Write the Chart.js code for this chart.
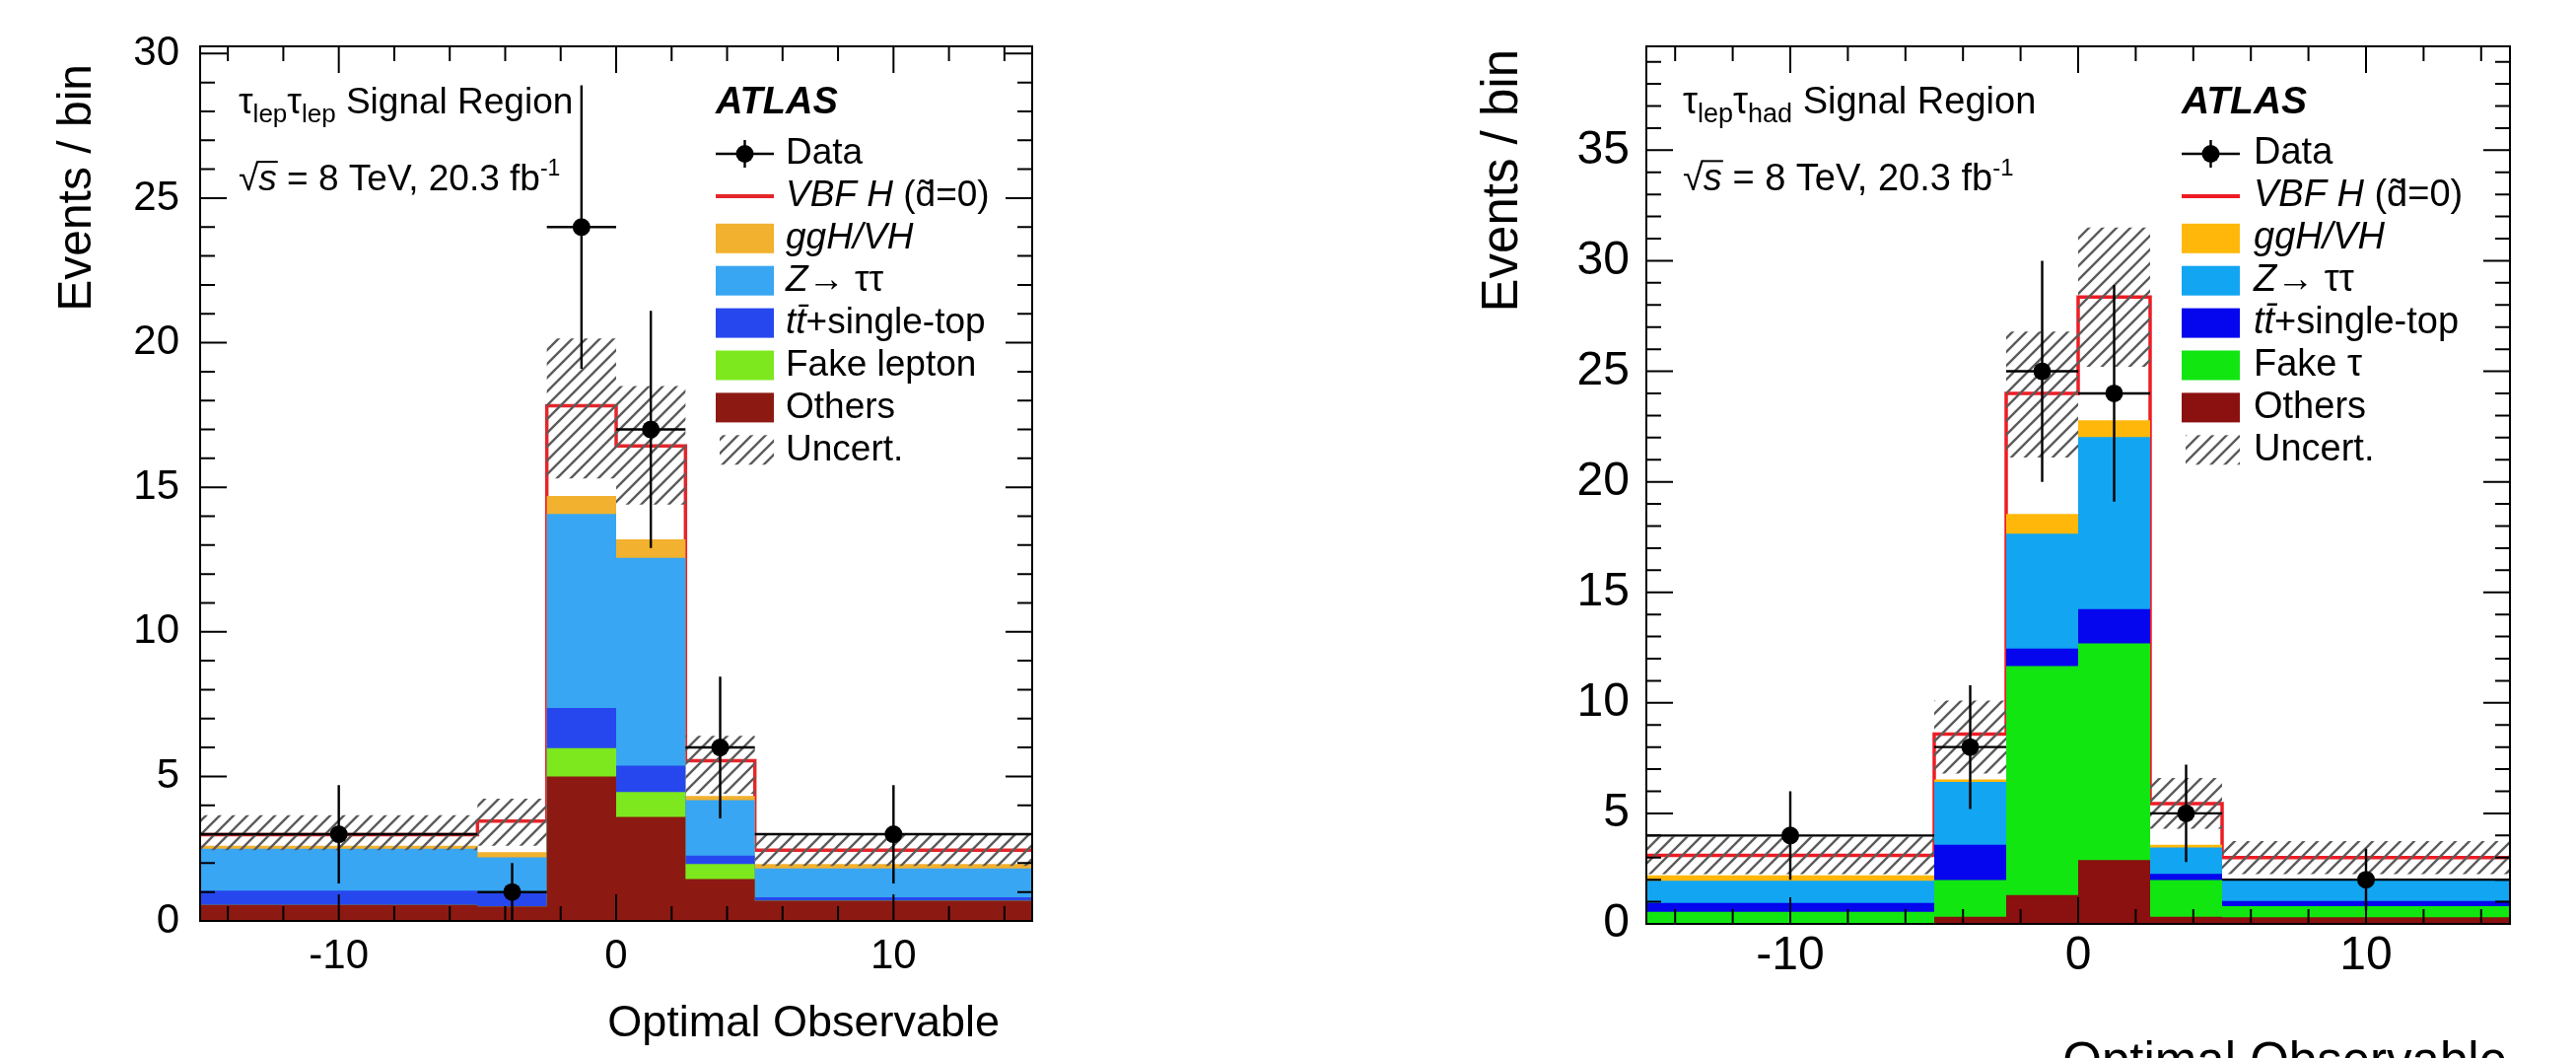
<!DOCTYPE html>
<html>
<head>
<meta charset="utf-8">
<script src="https://cdn.jsdelivr.net/npm/chart.js@4.4.1/dist/chart.umd.min.js"></script>
<style>
  html, body { margin: 0; padding: 0; background: #fff; }
  body { width: 2613px; height: 1073px; position: relative; overflow: hidden; }
  canvas { position: absolute; top: 0; }
  #llChart { left: 0; }
  #lhChart { left: 1300px; }
</style>
</head>
<body>
<canvas id="llChart" width="1300" height="1073"></canvas>
<canvas id="lhChart" width="1313" height="1073"></canvas>
<script>
// Optimal Observable binning (shared by both panels)
const binEdges = [-15, -5, -2.5, 0, 2.5, 5, 15];
const binCenters = [-10, -3.75, -1.25, 1.25, 3.75, 10];
const xMajorTicks = [-10, 0, 10];

// tau_lep tau_lep signal region, per-sample yields (bottom of stack first)
const llOthers  = [0.55, 0.5, 5.0, 3.6, 1.45, 0.7];
const llFake    = [0.0, 0.0, 0.98, 0.86, 0.52, 0.0];
const llTop     = [0.5, 0.5, 1.39, 0.91, 0.29, 0.12];
const llZtautau = [1.45, 1.2, 6.71, 7.19, 1.92, 1.0];
const llGgHVH   = [0.1, 0.18, 0.62, 0.64, 0.14, 0.15];
const llVBF     = [0.38, 1.07, 3.12, 3.23, 1.22, 0.48];
const llUncLow  = [2.45, 2.6, 15.3, 14.4, 4.4, 1.9];
const llUncHigh = [3.66, 4.23, 20.15, 18.5, 6.4, 3.0];
const llData    = [3, 1, 24, 17, 6, 3];
const llDataErr = [1.7, 1.0, 4.9, 4.1, 2.45, 1.7];
const llYTicks  = [0, 5, 10, 15, 20, 25, 30];

// tau_lep tau_had signal region
const lhOthers  = [0.05, 0.32, 1.3, 2.89, 0.32, 0.3];
const lhFake    = [0.5, 1.66, 10.36, 9.8, 1.66, 0.5];
const lhTop     = [0.4, 1.6, 0.8, 1.55, 0.28, 0.24];
const lhZtautau = [1.0, 2.84, 5.19, 7.79, 1.2, 0.96];
const lhGgHVH   = [0.25, 0.12, 0.89, 0.75, 0.12, 0.05];
const lhVBF     = [0.9, 2.05, 5.46, 5.58, 1.86, 0.95];
const lhUncLow  = [2.25, 6.8, 21.1, 25.2, 4.3, 2.25];
const lhUncHigh = [3.95, 10.1, 26.8, 31.5, 6.6, 3.75];
const lhData    = [4, 8, 25, 24, 5, 2];
const lhDataErr = [2.0, 2.8, 5.0, 4.9, 2.2, 1.4];
const lhYTicks  = [0, 5, 10, 15, 20, 25, 30, 35];

const FONT = '"Liberation Sans", Arial, sans-serif';

// histogram as step points: one point per left bin edge + closing point
function stepPoints(values) {
    return binEdges.map((x, i) => ({ x: x, y: values[Math.min(i, values.length - 1)] }));
}

function cumulate(layers) {
    let run = layers[0].map(() => 0);
    return layers.map(l => {
        run = run.map((v, i) => v + l[i]);
        return run;
    });
}

function makeHatch(canvas) {
    const gap = 14;
    const tile = document.createElement('canvas');
    tile.width = gap; tile.height = gap;
    const g = tile.getContext('2d');
    g.strokeStyle = '#5c5c5c';
    g.lineWidth = 2.4;
    g.beginPath();
    g.moveTo(0, gap); g.lineTo(gap, 0);
    g.moveTo(-gap / 2, gap / 2); g.lineTo(gap / 2, -gap / 2);
    g.moveTo(gap / 2, gap * 1.5); g.lineTo(gap * 1.5, gap / 2);
    g.stroke();
    return canvas.getContext('2d').createPattern(tile, 'repeat');
}

function histLayer(values, color, order, extra) {
    return Object.assign({
        data: stepPoints(values),
        stepped: true,
        fill: 'origin',
        backgroundColor: color,
        borderColor: 'rgba(0,0,0,0)',
        borderWidth: 0,
        pointRadius: 0,
        order: order
    }, extra || {});
}

function buildDatasets(layers, colors, uncLow, uncHigh, data, dataErr, hatch) {
    const cum = cumulate(layers); // others, fake, top, ztt, ggh, vbf
    return [
        histLayer(cum[5], '#ffffff', 10, { borderColor: colors[5], borderWidth: 3.5 }),
        histLayer(cum[4], colors[4], 9),
        histLayer(cum[3], colors[3], 8),
        histLayer(cum[2], colors[2], 7),
        histLayer(cum[1], colors[1], 6),
        histLayer(cum[0], colors[0], 5),
        histLayer(uncLow, 'rgba(0,0,0,0)', 4, { fill: false }),
        histLayer(uncHigh, hatch, 3, { fill: 6 }),
        {
            data: binCenters.map((x, i) => ({ x: x, y: data[i] })),
            showLine: false,
            pointRadius: 9,
            pointHoverRadius: 9,
            pointBackgroundColor: '#000',
            pointBorderColor: '#000',
            pointBorderWidth: 0,
            errorBars: dataErr,
            order: 0
        }
    ];
}

// ROOT-style frame: inward ticks on all four sides, data error bars
const rootAxes = {
    id: 'rootAxes',
    afterDatasetsDraw(chart, args, opts) {
        const { ctx, chartArea: a } = chart;
        const xs = chart.scales.x, ys = chart.scales.y;
        ctx.save();
        ctx.strokeStyle = '#000';
        chart.data.datasets.forEach(ds => {
            if (!ds.errorBars) return;
            ctx.lineWidth = 2.4;
            ctx.beginPath();
            ds.data.forEach((p, j) => {
                const px = xs.getPixelForValue(p.x);
                const py = ys.getPixelForValue(p.y);
                ctx.moveTo(xs.getPixelForValue(binEdges[j]), py);
                ctx.lineTo(xs.getPixelForValue(binEdges[j + 1]), py);
                ctx.moveTo(px, ys.getPixelForValue(Math.max(p.y - ds.errorBars[j], 0)));
                ctx.lineTo(px, ys.getPixelForValue(p.y + ds.errorBars[j]));
            });
            ctx.stroke();
        });

        ctx.lineWidth = 2;
        ctx.strokeRect(a.left, a.top, a.right - a.left, a.bottom - a.top);
        ctx.beginPath();
        for (let v = -14; v <= 14; v += 2) {
            const len = xMajorTicks.includes(v) ? opts.major : opts.minor;
            const px = xs.getPixelForValue(v);
            ctx.moveTo(px, a.bottom); ctx.lineTo(px, a.bottom - len);
            ctx.moveTo(px, a.top); ctx.lineTo(px, a.top + len);
        }
        for (let v = 1; v < ys.max; v += 1) {
            const len = v % 5 === 0 ? opts.major : opts.minor;
            const py = ys.getPixelForValue(v);
            ctx.moveTo(a.left, py); ctx.lineTo(a.left + len, py);
            ctx.moveTo(a.right, py); ctx.lineTo(a.right - len, py);
        }
        ctx.stroke();
        ctx.restore();
    }
};

function drawRuns(ctx, x, y, runs, size) {
    for (const r of runs) {
        const s = r.size || size;
        ctx.font = (r.it ? 'italic ' : '') + (r.bold ? 'bold ' : '') + s + 'px ' + FONT;
        ctx.fillText(r.t, x, y + (r.dy || 0));
        const w = ctx.measureText(r.t).width;
        if (r.over) {
            ctx.save();
            ctx.lineWidth = 2;
            ctx.beginPath();
            ctx.moveTo(x - 2, y - s * 0.78);
            ctx.lineTo(x + w + 1, y - s * 0.78);
            ctx.stroke();
            ctx.restore();
        }
        x += w;
    }
    return x;
}

// labels, legend and axis titles
function atlasText(cfg) {
    return {
        id: 'atlasText',
        afterDraw(chart) {
            const ctx = chart.ctx;
            ctx.save();
            ctx.fillStyle = '#000';
            ctx.strokeStyle = '#000';
            ctx.textAlign = 'left';
            ctx.textBaseline = 'alphabetic';
            const s = cfg.size, sub = Math.round(s * 0.7);
            drawRuns(ctx, cfg.textX, cfg.regionY, [
                { t: '\u03c4' }, { t: cfg.subs[0], size: sub, dy: 9 },
                { t: '\u03c4' }, { t: cfg.subs[1], size: sub, dy: 9 },
                { t: ' Signal Region' }
            ], s);
            drawRuns(ctx, cfg.textX, cfg.sqrtY, [
                { t: '\u221a' }, { t: 's', it: true, over: true },
                { t: ' = 8 TeV, 20.3 fb' }, { t: '-1', size: Math.round(s * 0.62), dy: -15 }
            ], s);
            drawRuns(ctx, cfg.legX, cfg.regionY, [{ t: 'ATLAS', it: true, bold: true }], cfg.atlasSize);

            // legend
            cfg.entries.forEach((e, i) => {
                const yc = cfg.legY0 + i * cfg.legDy;
                const x0 = cfg.legX, w = cfg.legW;
                if (e.kind === 'data') {
                    ctx.lineWidth = 2.4;
                    ctx.beginPath();
                    ctx.moveTo(x0, yc); ctx.lineTo(x0 + w, yc);
                    ctx.moveTo(x0 + w / 2, yc - 14); ctx.lineTo(x0 + w / 2, yc + 14);
                    ctx.stroke();
                    ctx.beginPath();
                    ctx.arc(x0 + w / 2, yc, 9, 0, Math.PI * 2);
                    ctx.fill();
                } else if (e.kind === 'line') {
                    ctx.save();
                    ctx.strokeStyle = e.color;
                    ctx.lineWidth = 4;
                    ctx.beginPath();
                    ctx.moveTo(x0, yc); ctx.lineTo(x0 + w, yc);
                    ctx.stroke();
                    ctx.restore();
                } else if (e.kind === 'box') {
                    ctx.save();
                    ctx.fillStyle = e.color;
                    ctx.fillRect(x0, yc - 15, w, 30);
                    ctx.restore();
                } else if (e.kind === 'hatch') {
                    ctx.save();
                    ctx.fillStyle = cfg.hatch;
                    ctx.fillRect(x0 + 4, yc - 15, w - 4, 30);
                    ctx.restore();
                }
                ctx.textBaseline = 'middle';
                drawRuns(ctx, cfg.legTextX, yc, e.runs, cfg.legSize);
                ctx.textBaseline = 'alphabetic';
            });

            // axis titles
            ctx.font = cfg.yTitle.size + 'px ' + FONT;
            ctx.save();
            ctx.translate(cfg.yTitle.x, cfg.yTitle.y);
            ctx.rotate(-Math.PI / 2);
            ctx.textAlign = 'right';
            ctx.textBaseline = 'middle';
            ctx.fillText('Events / bin', 0, 0);
            ctx.restore();
            ctx.font = cfg.xTitle.size + 'px ' + FONT;
            ctx.textAlign = 'right';
            ctx.fillText('Optimal Observable', cfg.xTitle.x, cfg.xTitle.y);
            ctx.restore();
        }
    };
}

function legendEntries(colors, fakeLabel) {
    return [
        { kind: 'data', runs: [{ t: 'Data' }] },
        { kind: 'line', color: colors[5], runs: [{ t: 'VBF H', it: true }, { t: ' (d\u0303=0)' }] },
        { kind: 'box', color: colors[4], runs: [{ t: 'ggH/VH', it: true }] },
        { kind: 'box', color: colors[3], runs: [{ t: 'Z', it: true }, { t: '\u2192 \u03c4\u03c4' }] },
        { kind: 'box', color: colors[2], runs: [{ t: 'tt\u0304', it: true }, { t: '+single-top' }] },
        { kind: 'box', color: colors[1], runs: fakeLabel },
        { kind: 'box', color: colors[0], runs: [{ t: 'Others' }] },
        { kind: 'hatch', runs: [{ t: 'Uncert.' }] }
    ];
}

function makeChart(id, p) {
    const canvas = document.getElementById(id);
    const hatch = makeHatch(canvas);
    const text = Object.assign({ hatch: hatch, entries: legendEntries(p.colors, p.fakeLabel) }, p.text);
    return new Chart(canvas, {
        type: 'line',
        data: {
            datasets: buildDatasets(p.layers, p.colors, p.uncLow, p.uncHigh, p.data, p.dataErr, hatch)
        },
        options: {
            responsive: false,
            devicePixelRatio: 1,
            animation: false,
            events: [],
            layout: { padding: p.padding },
            plugins: {
                legend: { display: false },
                tooltip: { enabled: false },
                rootAxes: { major: 27, minor: 15 }
            },
            scales: {
                x: {
                    type: 'linear',
                    min: -15,
                    max: 15,
                    afterBuildTicks: s => { s.ticks = xMajorTicks.map(v => ({ value: v })); },
                    afterFit: s => { s.height = 100; },
                    grid: { display: false, drawTicks: false },
                    border: { display: false },
                    ticks: {
                        color: '#000',
                        font: { family: FONT, size: p.tickSize },
                        padding: p.xPad,
                        maxRotation: 0,
                        autoSkip: false
                    }
                },
                y: {
                    type: 'linear',
                    min: 0,
                    max: p.yMax,
                    afterBuildTicks: s => { s.ticks = p.yTicks.map(v => ({ value: v })); },
                    afterFit: s => { s.width = p.yAxisWidth; },
                    grid: { display: false, drawTicks: false },
                    border: { display: false },
                    ticks: {
                        color: '#000',
                        font: { family: FONT, size: p.tickSize },
                        padding: p.yPad,
                        autoSkip: false
                    }
                }
            }
        },
        plugins: [rootAxes, atlasText(text)]
    });
}

const llColors = ['#8c1a13', '#7ee81e', '#2747ee', '#38a6f2', '#f2b12e', '#e3262b'];
const lhColors = ['#8b1010', '#11e611', '#0505ee', '#12a5f2', '#ffb80a', '#ee1c24'];

makeChart('llChart', {
    layers: [llOthers, llFake, llTop, llZtautau, llGgHVH, llVBF],
    colors: llColors,
    uncLow: llUncLow, uncHigh: llUncHigh,
    data: llData, dataErr: llDataErr,
    yMax: 30.25, yTicks: llYTicks,
    padding: { left: 0, top: 47, right: 253, bottom: 39 },
    yAxisWidth: 203, tickSize: 42, xPad: 11, yPad: 21,
    fakeLabel: [{ t: 'Fake lepton' }],
    text: {
        size: 37, subs: ['lep', 'lep'], textX: 242, regionY: 115, sqrtY: 193,
        atlasSize: 38, legX: 726, legW: 59, legTextX: 797, legY0: 156, legDy: 42.9, legSize: 37,
        yTitle: { x: 79, y: 65, size: 48 }, xTitle: { x: 1014, y: 1051, size: 45 }
    }
});

makeChart('lhChart', {
    layers: [lhOthers, lhFake, lhTop, lhZtautau, lhGgHVH, lhVBF],
    colors: lhColors,
    uncLow: lhUncLow, uncHigh: lhUncHigh,
    data: lhData, dataErr: lhDataErr,
    yMax: 39.7, yTicks: lhYTicks,
    padding: { left: 0, top: 47, right: 67, bottom: 36 },
    yAxisWidth: 370, tickSize: 48, xPad: 4, yPad: 17,
    fakeLabel: [{ t: 'Fake \u03c4' }],
    text: {
        size: 38, subs: ['lep', 'had'], textX: 407, regionY: 115, sqrtY: 193,
        atlasSize: 39, legX: 913, legW: 59, legTextX: 986, legY0: 156, legDy: 42.9, legSize: 38,
        yTitle: { x: 225, y: 50, size: 51 }, xTitle: { x: 1243, y: 1093, size: 51 }
    }
});
</script>
</body>
</html>
